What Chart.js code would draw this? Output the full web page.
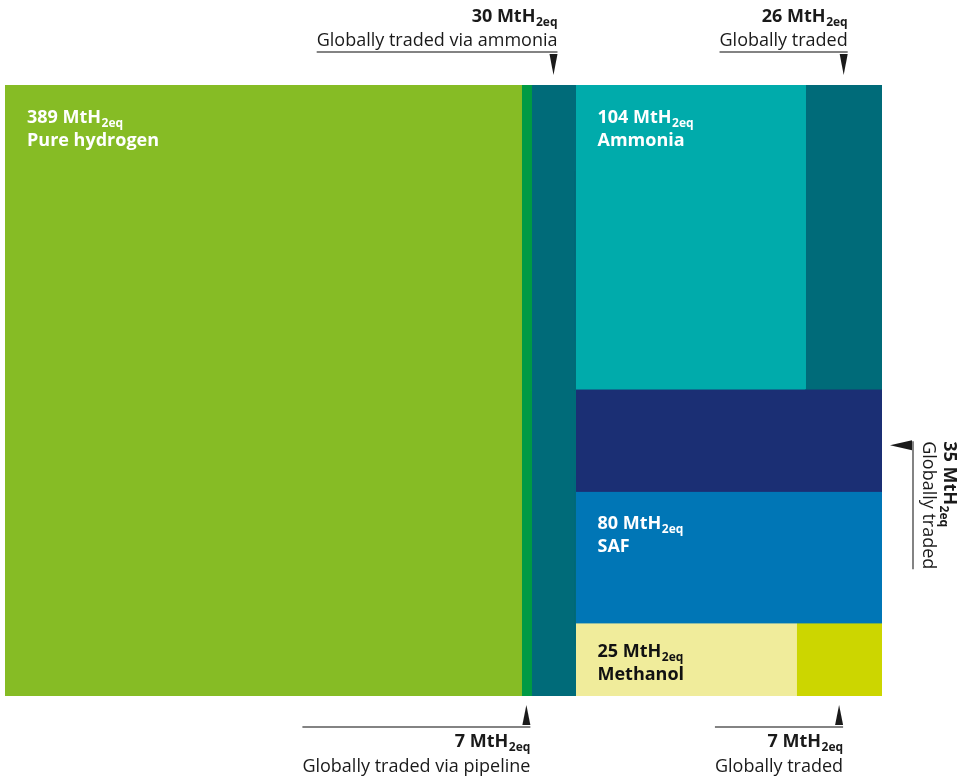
<!DOCTYPE html>
<html><head><meta charset="utf-8">
<script src="https://cdn.jsdelivr.net/npm/chart.js@4/dist/chart.umd.min.js"></script>
<style>html,body{margin:0;padding:0;background:#fff;}#wrap{width:958px;height:781px;position:relative;}</style>
</head><body><div id="wrap"><canvas id="c"></canvas></div>
<script>
// ---- data ----
const unitMain = 'MtH';
const unitSub = '2eq';
const hydrogenName = 'Pure hydrogen';
const hydrogenTotal = 389;
const hydrogenTradeLabels = ['Globally traded via pipeline', 'Globally traded via ammonia'];
const hydrogenTradeValues = [7, 30];
const derivativeNames = ['Ammonia', 'SAF', 'Methanol'];
const derivativeTotals = [104, 80, 25];
const derivativeTraded = [26, 35, 7];
const derivativeTradeLabels = ['Globally traded', 'Globally traded', 'Globally traded'];

// ---- styles ----
const hydrogenColors = ['#86BC25', '#009A44', '#006B79'];
const derivativeColors = ['#00ABAB', '#0076B6', '#F0EC9B'];
const derivativeTradedColors = ['#006B79', '#1B2F74', '#CCD600'];
const derivativeTextColors = ['#ffffff', '#ffffff', '#111111'];
const derivativeSplitAxis = ['x', 'y', 'x'];
const hydrogenTradeSides = ['bottom', 'top'];
const derivativeTradeSides = ['top', 'right', 'bottom'];
const FONT = '"Open Sans", "DejaVu Sans", sans-serif';
const MAIN = 18, SUB = 12;

// ---- treemap layout computed from the values ----
const derivSum = derivativeTotals.reduce((a, b) => a + b, 0);
const X_MAX = hydrogenTotal + derivSum;
const Y_MAX = derivSum;
const rects = [];
const hydTradeSum = hydrogenTradeValues.reduce((a, b) => a + b, 0);
rects.push({x0: 0, x1: hydrogenTotal - hydTradeSum, y0: 0, y1: Y_MAX, color: hydrogenColors[0],
  label: {value: hydrogenTotal, name: hydrogenName, color: '#ffffff'}});
let cx = hydrogenTotal - hydTradeSum;
hydrogenTradeValues.forEach((v, i) => {
  rects.push({x0: cx, x1: cx + v, y0: 0, y1: Y_MAX, color: hydrogenColors[i + 1],
    ann: {value: v, text: hydrogenTradeLabels[i], side: hydrogenTradeSides[i]}});
  cx += v;
});
let yTop = Y_MAX;
derivativeNames.forEach((name, i) => {
  const t = derivativeTotals[i], tr = derivativeTraded[i];
  const y0 = yTop - t, y1 = yTop;
  const lab = {value: t, name: name, color: derivativeTextColors[i]};
  const ann = {value: tr, text: derivativeTradeLabels[i], side: derivativeTradeSides[i]};
  if (derivativeSplitAxis[i] === 'x') {
    const xm = hydrogenTotal + derivSum * (t - tr) / t;
    rects.push({x0: hydrogenTotal, x1: xm, y0, y1, color: derivativeColors[i], label: lab});
    rects.push({x0: xm, x1: X_MAX, y0, y1, color: derivativeTradedColors[i], ann});
  } else {
    const ySplit = yTop - tr; // traded share on top of the row
    rects.push({x0: hydrogenTotal, x1: X_MAX, y0: ySplit, y1, color: derivativeTradedColors[i], ann});
    rects.push({x0: hydrogenTotal, x1: X_MAX, y0, y1: ySplit, color: derivativeColors[i], label: lab});
  }
  yTop = y0;
});

const datasets = rects.map(r => ({
  type: 'line',
  data: [{x: r.x0, y: r.y1}, {x: r.x1, y: r.y1}, {x: r.x1, y: r.y0}, {x: r.x0, y: r.y0}, {x: r.x0, y: r.y1}],
  fill: 'shape',
  backgroundColor: r.color,
  borderColor: r.color,
  borderWidth: 1,
  pointRadius: 0,
  tension: 0
}));

function drawRich(ctx, x, y, mainSize, subSize, num, align) {
  ctx.font = 'bold ' + mainSize + 'px ' + FONT;
  const t1 = num + ' ' + unitMain;
  const w1 = ctx.measureText(t1).width;
  ctx.font = 'bold ' + subSize + 'px ' + FONT;
  const w2 = ctx.measureText(unitSub).width;
  const total = w1 + w2 + 0.5;
  const sx = align === 'right' ? x - total : x;
  ctx.textAlign = 'left';
  ctx.textBaseline = 'alphabetic';
  ctx.font = 'bold ' + mainSize + 'px ' + FONT;
  ctx.fillText(t1, sx, y);
  ctx.font = 'bold ' + subSize + 'px ' + FONT;
  ctx.fillText(unitSub, sx + w1 + 0.5, y + 4);
}

const labelPlugin = {
  id: 'treeLabels',
  afterDatasetsDraw(chart) {
    const ctx = chart.ctx, xs = chart.scales.x, ys = chart.scales.y, area = chart.chartArea;
    ctx.save();
    rects.forEach(r => {
      const L = xs.getPixelForValue(r.x0), R = xs.getPixelForValue(r.x1);
      const T = ys.getPixelForValue(r.y1), B = ys.getPixelForValue(r.y0);
      if (r.label) {
        const off = Math.min(38, (B - T) * 0.465);
        ctx.fillStyle = r.label.color;
        drawRich(ctx, L + 22, T + off, MAIN, SUB, r.label.value, 'left');
        ctx.font = 'bold ' + MAIN + 'px ' + FONT;
        ctx.textAlign = 'left';
        ctx.fillText(r.label.name, L + 22, T + off + 23);
      }
      if (r.ann) {
        const a = r.ann;
        ctx.fillStyle = '#1a1a1a';
        ctx.strokeStyle = '#5a5a5a';
        ctx.lineWidth = 1.5;
        ctx.font = MAIN + 'px ' + FONT;
        const tw = ctx.measureText(a.text).width;
        if (a.side === 'top' || a.side === 'bottom') {
          const c = (L + R) / 2;
          const rx = c + 4;
          let tip, base, lineY, b1, b2;
          if (a.side === 'top') {
            tip = area.top - 10; base = area.top - 31; lineY = area.top - 33; b1 = area.top - 63; b2 = area.top - 39;
          } else {
            tip = area.bottom + 9; base = area.bottom + 29; lineY = area.bottom + 31; b1 = area.bottom + 51; b2 = area.bottom + 76;
          }
          ctx.beginPath();
          ctx.moveTo(c - 4, base); ctx.lineTo(c + 4, base); ctx.lineTo(c, tip); ctx.closePath();
          ctx.fill();
          ctx.beginPath();
          ctx.moveTo(rx - tw, lineY); ctx.lineTo(rx, lineY); ctx.stroke();
          drawRich(ctx, rx, b1, MAIN, SUB, a.value, 'right');
          ctx.font = MAIN + 'px ' + FONT;
          ctx.textAlign = 'right';
          ctx.fillText(a.text, rx, b2);
        } else {
          const c = (T + B) / 2 + 5;
          const ty = c - 4;
          ctx.beginPath();
          ctx.moveTo(area.right + 30, c - 5); ctx.lineTo(area.right + 30, c + 5); ctx.lineTo(area.right + 8, c); ctx.closePath();
          ctx.fill();
          ctx.beginPath();
          ctx.moveTo(area.right + 31, ty); ctx.lineTo(area.right + 31, ty + tw); ctx.stroke();
          ctx.save();
          ctx.translate(area.right + 62, ty);
          ctx.rotate(Math.PI / 2);
          drawRich(ctx, 0, 0, MAIN, SUB, a.value, 'left');
          ctx.restore();
          ctx.save();
          ctx.translate(area.right + 41, ty);
          ctx.rotate(Math.PI / 2);
          ctx.font = MAIN + 'px ' + FONT;
          ctx.textAlign = 'left';
          ctx.fillStyle = '#1a1a1a';
          ctx.fillText(a.text, 0, 0);
          ctx.restore();
        }
      }
    });
    ctx.restore();
  }
};

new Chart(document.getElementById('c'), {
  type: 'line',
  data: {datasets},
  options: {
    responsive: true,
    maintainAspectRatio: false,
    animation: false,
    layout: {padding: {left: 5, right: 76, top: 85, bottom: 85}},
    scales: {
      x: {type: 'linear', min: 0, max: X_MAX, display: false},
      y: {type: 'linear', min: 0, max: Y_MAX, display: false}
    },
    plugins: {legend: {display: false}, tooltip: {enabled: false}},
    elements: {point: {radius: 0}}
  },
  plugins: [labelPlugin]
});
</script>
</body></html>
